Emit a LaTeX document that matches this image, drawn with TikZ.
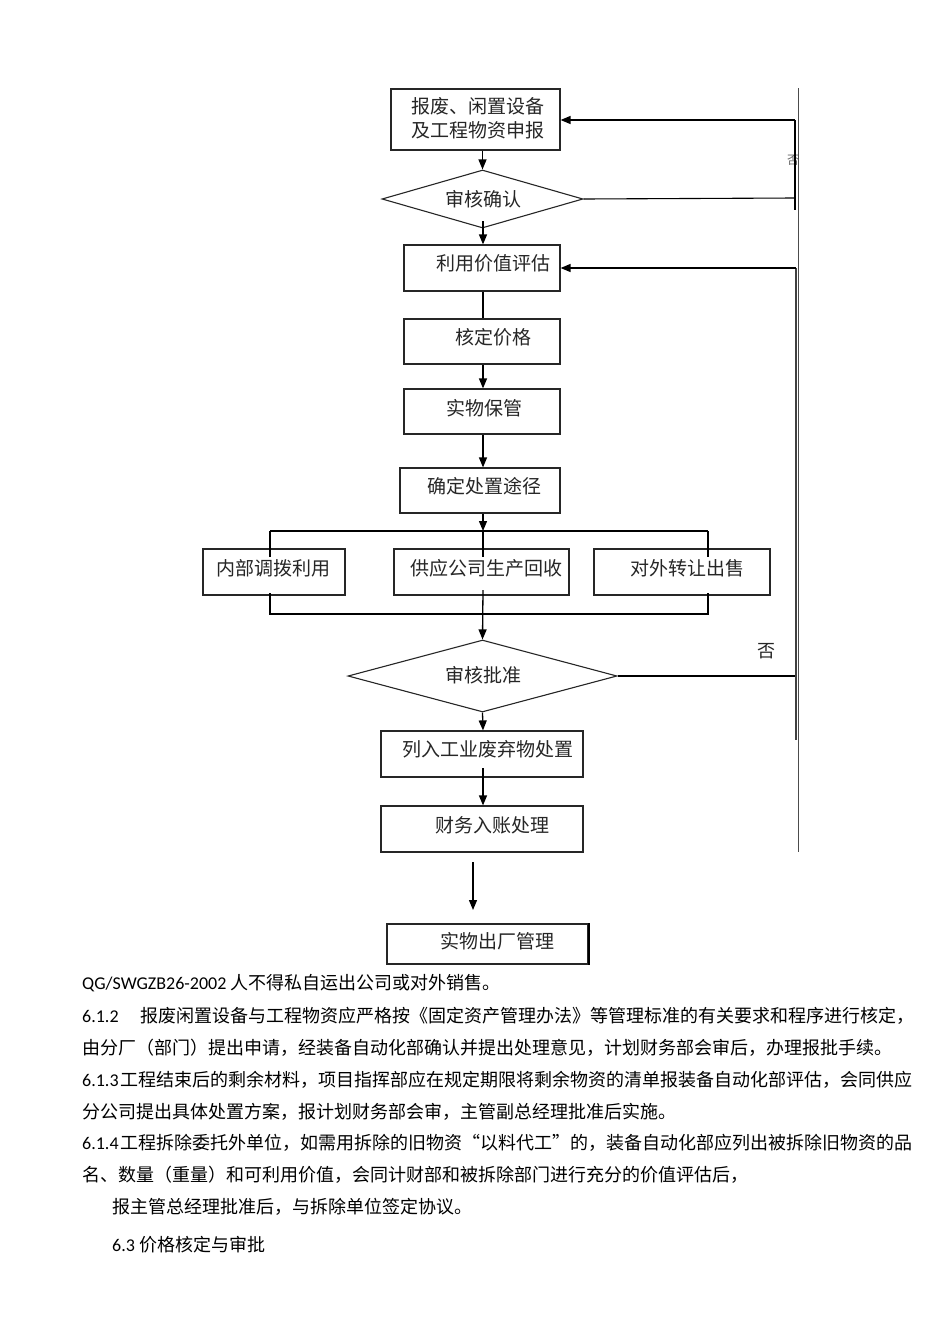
\documentclass[tikz,border=0pt]{standalone}
\usepackage{fontspec}
\usetikzlibrary{arrows.meta,shapes.geometric}
\newfontfamily\cjk{Noto Sans CJK SC}
\newfontfamily\latn{Carlito}
\begin{document}
\begin{tikzpicture}[x=1pt,y=-1pt,
  box/.style={draw=black!85,line width=1.2pt,inner sep=0pt},
  dia/.style={draw=black!85,line width=1.1pt,diamond,inner sep=0pt},
  lbl/.style={font=\cjk\fontsize{19}{24}\selectfont,inner sep=0pt,text=black!85},
  body/.style={font=\cjk\fontsize{18}{22}\selectfont,inner sep=0pt,anchor=west},
  con/.style={line width=1.3pt,black},
  arr/.style={con,-{Triangle[length=10pt,width=8pt]}}]
\useasboundingbox (0,0) rectangle (950,1344);
\fill[white] (0,0) rectangle (950,1344);
% boxes
\node[box,minimum width=169pt,minimum height=61pt] (b1) at (475.5,119.5) {};
\node[lbl,align=center] (t1) at (478,118) {报废、闲置设备\\及工程物资申报};
\node[dia,minimum width=201pt,minimum height=58pt] (d1) at (482.5,199) {};
\node[lbl] (t2) at (483,199) {审核确认};
\node[box,minimum width=156pt,minimum height=46pt] (b3) at (482,268) {};
\node[lbl] (t3) at (493,263) {利用价值评估};
\node[box,minimum width=156pt,minimum height=45pt] (b4) at (482,341.5) {};
\node[lbl] (t4) at (493,337) {核定价格};
\node[box,minimum width=156pt,minimum height=45pt] (b5) at (482,411.5) {};
\node[lbl] (t5) at (484,408) {实物保管};
\node[box,minimum width=160pt,minimum height=45pt] (b6) at (480,490.5) {};
\node[lbl] (t6) at (484,486) {确定处置途径};
\node[box,minimum width=142pt,minimum height=46pt] (b7a) at (274,572) {};
\node[lbl] (t7a) at (273,568) {内部调拨利用};
\node[box,minimum width=175pt,minimum height=46pt] (b7b) at (481.5,572) {};
\node[lbl] (t7b) at (486,568) {供应公司生产回收};
\node[box,minimum width=176pt,minimum height=46pt] (b7c) at (682,572) {};
\node[lbl] (t7c) at (687,568) {对外转让出售};
\node[dia,minimum width=269pt,minimum height=72pt] (d2) at (482.5,676) {};
\node[lbl] (t8) at (483,675) {审核批准};
\node[box,minimum width=202pt,minimum height=46pt] (b9) at (482,754) {};
\node[lbl] (t9) at (488,749) {列入工业废弃物处置};
\node[box,minimum width=202pt,minimum height=46pt] (b10) at (482,829) {};
\node[lbl] (t10) at (492,825) {财务入账处理};
\node[box,minimum width=201pt,minimum height=40pt] (b12) at (487.5,944) {};
\draw[line width=2pt,black] (b12.north east) -- (b12.south east);
\node[lbl] (t12) at (497,941) {实物出厂管理};
\node[lbl,font=\cjk\fontsize{18}{22}\selectfont] (no) at (766,651) {否};
\node[lbl,font=\cjk\fontsize{12}{14}\selectfont,text=black!60] (no2) at (793,160) {否};
% coordinates
\coordinate (j) at (483,531);
\coordinate (jl) at (270,531);
\coordinate (jr) at (708,531);
\coordinate (kl) at (270,614);
\coordinate (kr) at (708,614);
\coordinate (r1) at (795,120);
\coordinate (r1b) at (795,210);
\coordinate (r1m) at (795,198);
\coordinate (r2) at (796,268);
\coordinate (r2b) at (796,740);
\coordinate (r2m) at (796,676);
\coordinate (g1) at (798,88);
\coordinate (g2) at (798,852);
\coordinate (f1) at (473,862);
\coordinate (f2) at (473,910);
% main flow
\draw[arr] (b1.south -| d1.north) -- (d1.north);
\draw[arr] (483,221) -- (b3.north -| 483,0);
\draw[con] (b3.south -| 483,0) -- (b4.north -| 483,0);
\draw[arr] (b4.south -| 483,0) -- (b5.north -| 483,0);
\draw[arr] (b5.south -| 483,0) -- (b6.north -| 483,0);
\draw[arr] (b6.south -| 483,0) -- (j);
\draw[con] (j) -- (483,557);
\draw[con] (jl) -- (jr);
\draw[con] (jl) -- (270,557);
\draw[con] (jr) -- (708,557);
\draw[con] (270,593) -- (kl) -- (kr) -- (708,593);
\draw[arr] (483,590) -- (d2.north);
\draw[arr] (d2.south) -- (b9.north -| 483,0);
\draw[arr] (483,768) -- (b10.north -| 483,0);
\draw[arr] (f1) -- (f2);
% feedback loops
\draw[black!70,line width=1pt] (g1) -- (g2);
\draw[con,line width=1.1pt] (d1.east) -- (r1m);
\draw[line width=2.2pt,black] (r1) -- (r1b);
\draw[arr] (r1) -- (b1.east |- r1);
\draw[con,line width=1.1pt] (d2.east) -- (r2m);
\draw[line width=1.8pt,black!75] (r2) -- (r2b);
\draw[arr] (r2) -- (b3.east);
% body text
\node[body] (p1) at (82,983) {{\latn QG/SWGZB26-2002} 人不得私自运出公司或对外销售。};
\node[body] (p2a) at (82,1016) {\latn 6.1.2};
\node[body] (p2) at (140,1016) {报废闲置设备与工程物资应严格按《固定资产管理办法》等管理标准的有关要求和程序进行核定，};
\node[body] (p3) at (82,1048) {由分厂（部门）提出申请，经装备自动化部确认并提出处理意见，计划财务部会审后，办理报批手续。};
\node[body] (p4) at (82,1080) {{\latn 6.1.3}\hspace{1.5pt}工程结束后的剩余材料，项目指挥部应在规定期限将剩余物资的清单报装备自动化部评估，会同供应};
\node[body] (p5) at (82,1112) {分公司提出具体处置方案，报计划财务部会审，主管副总经理批准后实施。};
\node[body] (p6) at (82,1143) {{\latn 6.1.4}\hspace{1.5pt}工程拆除委托外单位，如需用拆除的旧物资“以料代工”的，装备自动化部应列出被拆除旧物资的品};
\node[body] (p7) at (82,1175) {名、数量（重量）和可利用价值，会同计财部和被拆除部门进行充分的价值评估后，};
\node[body] (p8) at (112,1207) {报主管总经理批准后，与拆除单位签定协议。};
\node[body] (p9) at (112,1245) {{\latn 6.3} 价格核定与审批};
\end{tikzpicture}
\end{document}
